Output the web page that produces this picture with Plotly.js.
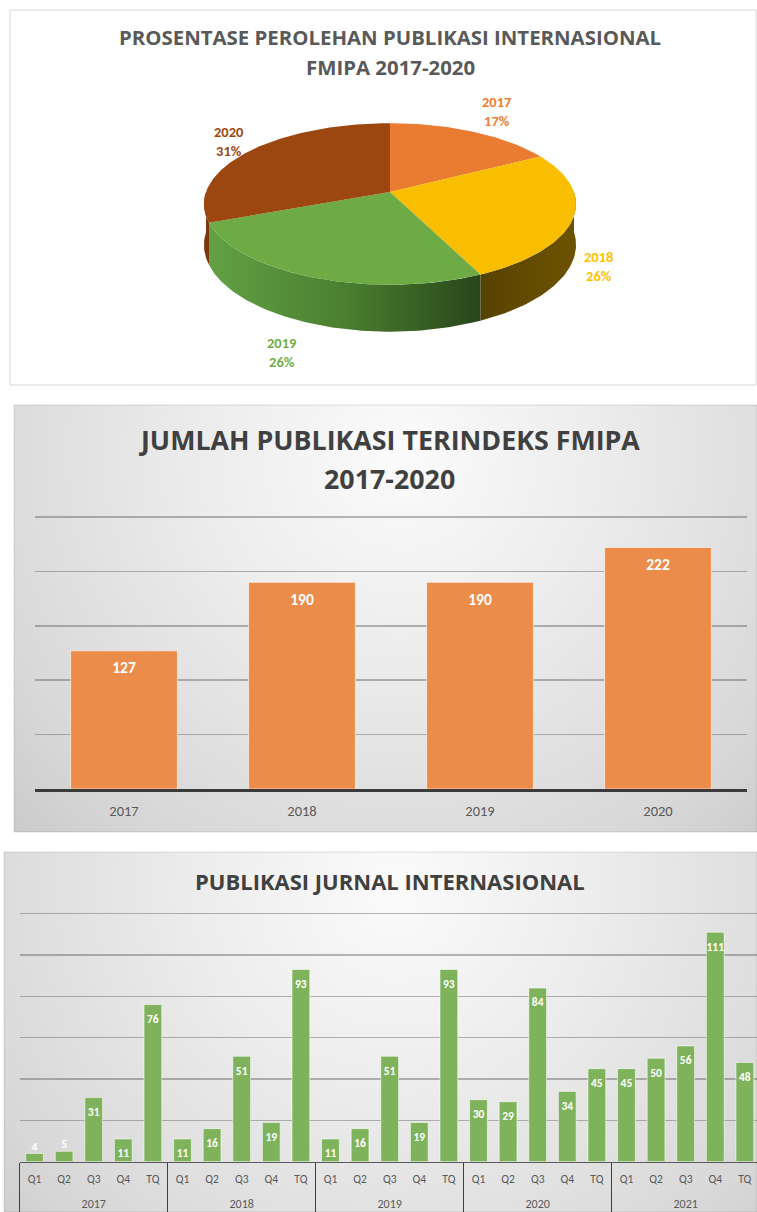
<!DOCTYPE html>
<html><head><meta charset="utf-8">
<script src="https://cdn.plot.ly/plotly-3.0.1.min.js"></script>
<style>html,body{margin:0;padding:0;background:#fff;} #chart{width:757px;height:1212px;}</style>
</head><body><div id="chart"></div>
<script>
// ---------------- data ----------------
const pieYears = ['2017', '2018', '2019', '2020'];
const piePercents = [17, 26, 26, 31];

const barYears = ['2017', '2018', '2019', '2020'];
const barCounts = [127, 190, 190, 222];

const jurnalYears = ['2017', '2018', '2019', '2020', '2021'];
const jurnalGroups = ['Q1', 'Q2', 'Q3', 'Q4', 'TQ'];
const jurnal2017 = [4, 5, 31, 11, 76];
const jurnal2018 = [11, 16, 51, 19, 93];
const jurnal2019 = [11, 16, 51, 19, 93];
const jurnal2020 = [30, 29, 84, 34, 45];
const jurnal2021 = [45, 50, 56, 111, 48];

// ---------------- styling ----------------
const W = 757, H = 1212;
const FONT = 'Carlito, Calibri, Lato, "Open Sans", sans-serif';
const TFONT = '"Open Sans", sans-serif';
const px = x => x / W;
const py = y => 1 - y / H;

const PIE = {cx: 390, cy: 192, rx: 184, ry: 79, persp: 0.148, depth: 40};
const pieTopColors = ['#E97C30', '#F9BE00', '#6EAB45', '#9C470F'];
const pieLabelColors = ['#ED7D31', '#FFC000', '#70AD47', '#9E480E'];
const pieWallColors = [
  [[0, '#8a4a1c'], [1, '#8a4a1c']],
  [[0, '#584200'], [1, '#6d5300']],
  [[0, '#62a143'], [0.5, '#4a7f30'], [1, '#28461a']],
  [[0, '#7a380c'], [1, '#7a380c']]
];
const pieLabelShift = [[23, -20], [25, 49], [-29, 75], [-21, -10]];

function proj(phiDeg) {
  const p = phiDeg * Math.PI / 180;
  const u = Math.sin(p), v = -Math.cos(p);
  const d = 1 - PIE.persp * v;
  return {x: PIE.cx + PIE.rx * u / d, y: PIE.cy + PIE.ry * v / d, d: d};
}
function arc(a, b) {
  const n = Math.max(2, Math.ceil(Math.abs(b - a)));
  const pts = [];
  for (let i = 0; i <= n; i++) pts.push(proj(a + (b - a) * i / n));
  return pts;
}

const traces = [];
const annotations = [];

// --- pie: walls then top faces ---
const total = piePercents.reduce((s, v) => s + v, 0);
let cum = 0;
const sliceAngles = piePercents.map(v => {
  const a = cum / total * 360; cum += v;
  return [a, cum / total * 360];
});
sliceAngles.forEach((ang, i) => {
  const a = Math.max(ang[0], 90), b = Math.min(ang[1], 270);
  if (b > a) {
    const top = arc(a, b);
    const bottom = top.slice().reverse().map(p => ({x: p.x, y: p.y + PIE.depth / p.d}));
    const pts = top.concat(bottom);
    traces.push({
      type: 'scatter', mode: 'lines', xaxis: 'x', yaxis: 'y',
      x: pts.map(p => p.x), y: pts.map(p => p.y),
      fill: 'toself', line: {width: 0},
      fillgradient: {type: 'horizontal', colorscale: pieWallColors[i]},
      hoverinfo: 'skip', showlegend: false
    });
  }
});
sliceAngles.forEach((ang, i) => {
  const rim = arc(ang[0], ang[1]);
  const pts = [{x: PIE.cx, y: PIE.cy}].concat(rim, [{x: PIE.cx, y: PIE.cy}]);
  traces.push({
    type: 'scatter', mode: 'lines', xaxis: 'x', yaxis: 'y',
    x: pts.map(p => p.x), y: pts.map(p => p.y),
    fill: 'toself', fillcolor: pieTopColors[i], line: {width: 0},
    hoverinfo: 'skip', showlegend: false
  });
  const mid = proj((ang[0] + ang[1]) / 2);
  annotations.push({
    xref: 'x', yref: 'y', x: mid.x, y: mid.y, showarrow: false,
    xshift: pieLabelShift[i][0], yshift: -pieLabelShift[i][1],
    text: pieYears[i] + '<br>' + piePercents[i] + '%',
    font: {family: FONT, size: 14.5, color: pieLabelColors[i], weight: 'bold'}
  });
});

// --- panel 2 bars ---
traces.push({
  type: 'bar', xaxis: 'x2', yaxis: 'y2',
  x: barYears, y: barCounts,
  marker: {color: '#EC8C4B', line: {color: 'rgba(255,255,255,0.6)', width: 1}},
  hoverinfo: 'skip', showlegend: false
});
traces.push({
  type: 'scatter', mode: 'markers+text', xaxis: 'x2', yaxis: 'y2',
  x: barYears, y: barCounts, text: barCounts.map(String),
  textposition: 'bottom center', cliponaxis: false,
  marker: {size: 16, color: 'rgba(0,0,0,0)', line: {width: 0}},
  textfont: {family: FONT, size: 15.5, color: '#ffffff', weight: 'bold'},
  hoverinfo: 'skip', showlegend: false
});

// --- panel 3 bars ---
const jurnalData = [jurnal2017, jurnal2018, jurnal2019, jurnal2020, jurnal2021];
const mcYear = [], mcGroup = [], mcVal = [];
jurnalYears.forEach((yr, i) => {
  jurnalGroups.forEach((g, j) => {
    mcYear.push(yr); mcGroup.push(g); mcVal.push(jurnalData[i][j]);
  });
});
traces.push({
  type: 'bar', xaxis: 'x3', yaxis: 'y3',
  x: [mcYear, mcGroup], y: mcVal,
  marker: {color: '#7FB35B', line: {color: 'rgba(255,255,255,0.55)', width: 1}},
  hoverinfo: 'skip', showlegend: false
});
traces.push({
  type: 'scatter', mode: 'markers+text', xaxis: 'x3', yaxis: 'y3',
  x: [mcYear, mcGroup], y: mcVal, text: mcVal.map(String),
  textposition: mcVal.map(v => v < 8 ? 'top center' : 'bottom center'), cliponaxis: false,
  marker: {size: mcVal.map(v => v < 8 ? 0 : 14), color: 'rgba(0,0,0,0)', line: {width: 0, color: 'rgba(0,0,0,0)'}},
  textfont: {family: FONT, size: 11.5, color: '#ffffff', weight: 'bold'},
  hoverinfo: 'skip', showlegend: false
});

// two-level category labels for panel 3 (quarters, years, group dividers)
const nGroup = jurnalGroups.length;
const qTickVals = mcGroup.map((_, i) => i);
const yearTickVals = jurnalYears.map((_, i) => i * nGroup + (nGroup - 1) / 2);
const dividerVals = jurnalYears.map((_, i) => i * nGroup - 0.5).concat([jurnalYears.length * nGroup - 0.5]);

// --- titles ---
function title(text, x, y, size, color) {
  annotations.push({xref: 'paper', yref: 'paper', x: px(x), y: py(y), xanchor: 'center', yanchor: 'middle',
    showarrow: false, text: text, font: {family: TFONT, size: size, color: color, weight: 'bold'}});
}
title('PROSENTASE PEROLEHAN PUBLIKASI INTERNASIONAL', 390, 37, 20.4, '#595959');
title('FMIPA 2017-2020', 390, 67, 20.4, '#595959');
title('JUMLAH PUBLIKASI TERINDEKS FMIPA', 389, 440, 26.8, '#404040');
title('2017-2020', 389, 478, 26.8, '#404040');
title('PUBLIKASI JURNAL INTERNASIONAL', 390, 881, 22, '#404040');

// --- backgrounds ---
function gradImg(w, h, cxf, cyf, rf, stops) {
  const c = document.createElement('canvas'); c.width = w; c.height = h;
  const g = c.getContext('2d');
  const grd = g.createRadialGradient(cxf * w, cyf * h, 0, cxf * w, cyf * h, rf * w);
  stops.forEach(s => grd.addColorStop(s[0], s[1]));
  g.fillStyle = grd; g.fillRect(0, 0, w, h);
  return c.toDataURL();
}
const bgStops = [[0, '#fbfbfb'], [0.35, '#ececec'], [0.75, '#d8d8d8'], [1, '#c6c6c6']];
const images = [
  {source: gradImg(743, 427, 0.52, 0.12, 0.78, bgStops), xref: 'paper', yref: 'paper',
   x: px(14), y: py(405), sizex: 743 / W, sizey: 427 / H, xanchor: 'left', yanchor: 'top', sizing: 'stretch', layer: 'below'},
  {source: gradImg(753, 360, 0.52, 0.1, 0.78, bgStops), xref: 'paper', yref: 'paper',
   x: px(4), y: py(852), sizex: 753 / W, sizey: 360 / H, xanchor: 'left', yanchor: 'top', sizing: 'stretch', layer: 'below'}
];
const shapes = [
  {type: 'rect', xref: 'paper', yref: 'paper', x0: px(10), x1: px(756), y0: py(385), y1: py(10),
   line: {color: '#d6d6d6', width: 1}, fillcolor: '#ffffff', layer: 'below'},
  {type: 'rect', xref: 'paper', yref: 'paper', x0: px(14), x1: px(757), y0: py(832), y1: py(405),
   line: {color: 'rgba(0,0,0,0.12)', width: 1}, fillcolor: 'rgba(0,0,0,0)', layer: 'above'},
  {type: 'rect', xref: 'paper', yref: 'paper', x0: px(4), x1: px(757), y0: py(1212), y1: py(852),
   line: {color: 'rgba(0,0,0,0.12)', width: 1}, fillcolor: 'rgba(0,0,0,0)', layer: 'above'}
];

const hidden = {visible: false, fixedrange: true};
const grid = 'rgba(95,95,95,0.45)';
const x3Range = [-0.5, 24.41];
const overlayBase = {overlaying: 'x3', anchor: 'y3', type: 'linear', range: x3Range, showgrid: false,
  zeroline: false, showline: false, fixedrange: true};
const layout = {
  width: W, height: H, margin: {l: 0, r: 0, t: 0, b: 0},
  paper_bgcolor: '#ffffff', plot_bgcolor: 'rgba(0,0,0,0)',
  font: {family: FONT, color: '#595959'},
  showlegend: false, bargap: 0.4, hovermode: false,
  xaxis: Object.assign({domain: [px(10), px(756)], range: [10, 756], anchor: 'y'}, hidden),
  yaxis: Object.assign({domain: [py(385), py(10)], range: [385, 10], anchor: 'x'}, hidden),
  xaxis2: {domain: [px(35), px(747)], anchor: 'y2', type: 'category', showgrid: false,
    showline: true, linecolor: '#3a3a3a', linewidth: 2.5,
    ticks: 'outside', ticklen: 7, tickcolor: 'rgba(0,0,0,0)',
    tickfont: {family: FONT, size: 14.5, color: '#595959'}, fixedrange: true},
  yaxis2: {domain: [py(789), py(515.4)], anchor: 'x2', range: [0, 251.5], dtick: 50, tick0: 0,
    showgrid: true, gridcolor: grid, gridwidth: 1.5, zeroline: false, showticklabels: false, fixedrange: true},
  xaxis3: {domain: [px(19.7), 1], anchor: 'y3', type: 'multicategory', range: x3Range,
    showticklabels: false, showdividers: false,
    showline: true, linecolor: '#5a5a5a', linewidth: 1.5,
    ticks: '', showgrid: false, fixedrange: true},
  xaxis4: Object.assign({}, overlayBase, {tickmode: 'array', tickvals: qTickVals, ticktext: mcGroup,
    ticks: '', ticklabelstandoff: 9, tickfont: {family: FONT, size: 11.5, color: '#595959'}}),
  xaxis5: Object.assign({}, overlayBase, {tickmode: 'array', tickvals: yearTickVals, ticktext: jurnalYears,
    ticks: '', ticklabelstandoff: 33, tickfont: {family: FONT, size: 12, color: '#595959'}}),
  xaxis6: Object.assign({}, overlayBase, {tickmode: 'array', tickvals: dividerVals, showticklabels: false,
    ticks: 'outside', ticklen: 52, tickwidth: 1, tickcolor: '#404040'}),
  yaxis3: {domain: [py(1161.7), py(911.6)], anchor: 'x3', range: [0, 121], dtick: 20, tick0: 0,
    showgrid: true, gridcolor: grid, gridwidth: 1.5, zeroline: false, showticklabels: false, fixedrange: true},
  annotations: annotations, shapes: shapes, images: images
};

// empty carrier traces so the overlay label axes are drawn
['x4', 'x5', 'x6'].forEach(ax => traces.push({type: 'scatter', mode: 'none', xaxis: ax, yaxis: 'y3',
  x: [], y: [], hoverinfo: 'skip', showlegend: false}));

Plotly.newPlot('chart', traces, layout, {displayModeBar: false, staticPlot: true});
</script>
</body></html>
